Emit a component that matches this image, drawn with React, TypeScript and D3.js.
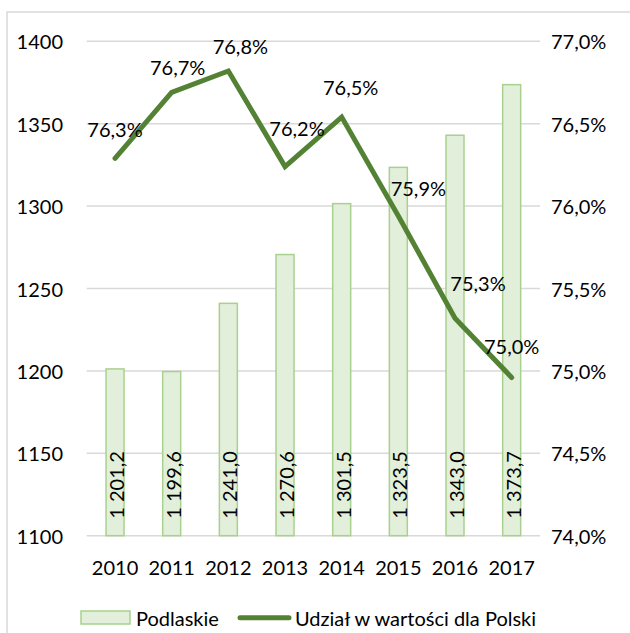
import React from "react";
import * as d3 from "d3";

const years = ["2010", "2011", "2012", "2013", "2014", "2015", "2016", "2017"];
const podlaskie = [1201.2, 1199.6, 1241.0, 1270.6, 1301.5, 1323.5, 1343.0, 1373.7];
const share = [76.29, 76.69, 76.82, 76.24, 76.54, 75.94, 75.32, 74.96];
const leftTicks = [1100, 1150, 1200, 1250, 1300, 1350, 1400];
const rightTicks = [74.0, 74.5, 75.0, 75.5, 76.0, 76.5, 77.0];
const seriesNames = ["Podlaskie", "Udział w wartości dla Polski"];

// label nudges (layout, not data)
const labelNudge: [number, number][] = [
  [0, -29], [6, -25], [12, -25], [12, -39], [9, -30], [20, -28], [23, -35], [0, -31],
];

const W = 630;
const H = 633;
const plotLeft = 86.7;
const plotRight = 540;
const plotTop = 41.3;
const plotBottom = 535.7;
const FONT = "Lato, 'Open Sans', sans-serif";
const BAR_FILL = "#e2efda";
const BAR_STROKE = "#a9d18e";
const LINE = "#548235";
const GRID = "#d9d9d9";

const fmtNum = (v: number) => {
  const s = v.toFixed(1).replace(".", ",");
  const [int, dec] = s.split(",");
  const intF = int.replace(/\B(?=(\d{3})+(?!\d))/g, " ");
  return intF + "," + dec;
};
const fmtPct = (v: number) => v.toFixed(1).replace(".", ",") + "%";

export default function App() {
  const x = d3.scaleBand<string>().domain(years).range([plotLeft, plotRight]);
  const yL = d3.scaleLinear().domain([1100, 1400]).range([plotBottom, plotTop]);
  const yR = d3.scaleLinear().domain([74, 77]).range([plotBottom, plotTop]);
  const barW = 18;
  const cx = (d: string) => (x(d) as number) + x.bandwidth() / 2;

  const line = d3
    .line<number>()
    .x((_, i) => cx(years[i]))
    .y((v) => yR(v));

  return (
    <svg
      width={W}
      height={H}
      style={{ position: "absolute", left: 0, top: 0, background: "#fff" }}
      fontFamily={FONT}
    >
      <rect x={7} y={12} width={W} height={H} fill="#fff" stroke={GRID} strokeWidth={1.5} />
      {leftTicks.map((t) => (
        <line key={t} x1={plotLeft} x2={plotRight} y1={yL(t)} y2={yL(t)} stroke={GRID} strokeWidth={1.5} />
      ))}
      {leftTicks.map((t) => (
        <text key={"l" + t} x={63} y={yL(t)} textAnchor="end" dominantBaseline="central" fontSize={20} fill="#000">
          {t}
        </text>
      ))}
      {rightTicks.map((t) => (
        <text key={"r" + t} x={551} y={yR(t)} textAnchor="start" dominantBaseline="central" fontSize={20} fill="#000">
          {fmtPct(t)}
        </text>
      ))}
      {years.map((d) => (
        <text key={"x" + d} x={cx(d)} y={567} textAnchor="middle" dominantBaseline="central" fontSize={20} fill="#000">
          {d}
        </text>
      ))}
      {podlaskie.map((v, i) => (
        <rect
          key={"b" + i}
          x={cx(years[i]) - barW / 2}
          y={yL(v)}
          width={barW}
          height={yL(1100) - yL(v)}
          fill={BAR_FILL}
          stroke={BAR_STROKE}
          strokeWidth={1.5}
        />
      ))}
      {podlaskie.map((v, i) => (
        <text
          key={"bl" + i}
          transform={`translate(${cx(years[i]) + 1},${plotBottom - 17}) rotate(-90)`}
          textAnchor="start"
          dominantBaseline="central"
          fontSize={20}
          fill="#000"
        >
          {fmtNum(v)}
        </text>
      ))}
      <path d={line(share) || ""} fill="none" stroke={LINE} strokeWidth={5} strokeLinejoin="miter" strokeLinecap="round" />
      {share.map((v, i) => (
        <text
          key={"sl" + i}
          x={cx(years[i]) + labelNudge[i][0]}
          y={yR(v) + labelNudge[i][1]}
          textAnchor="middle"
          dominantBaseline="central"
          fontSize={20}
          fill="#000"
        >
          {fmtPct(v)}
        </text>
      ))}
      <rect x={81} y={611} width={49} height={13} fill={BAR_FILL} stroke={BAR_STROKE} strokeWidth={1.5} />
      <text x={136} y={618} dominantBaseline="central" fontSize={20} fill="#000">
        {seriesNames[0]}
      </text>
      <line x1={240} x2={289} y1={617.7} y2={617.7} stroke={LINE} strokeWidth={5} strokeLinecap="round" />
      <text x={295} y={618} dominantBaseline="central" fontSize={20} fill="#000">
        {seriesNames[1]}
      </text>
    </svg>
  );
}
